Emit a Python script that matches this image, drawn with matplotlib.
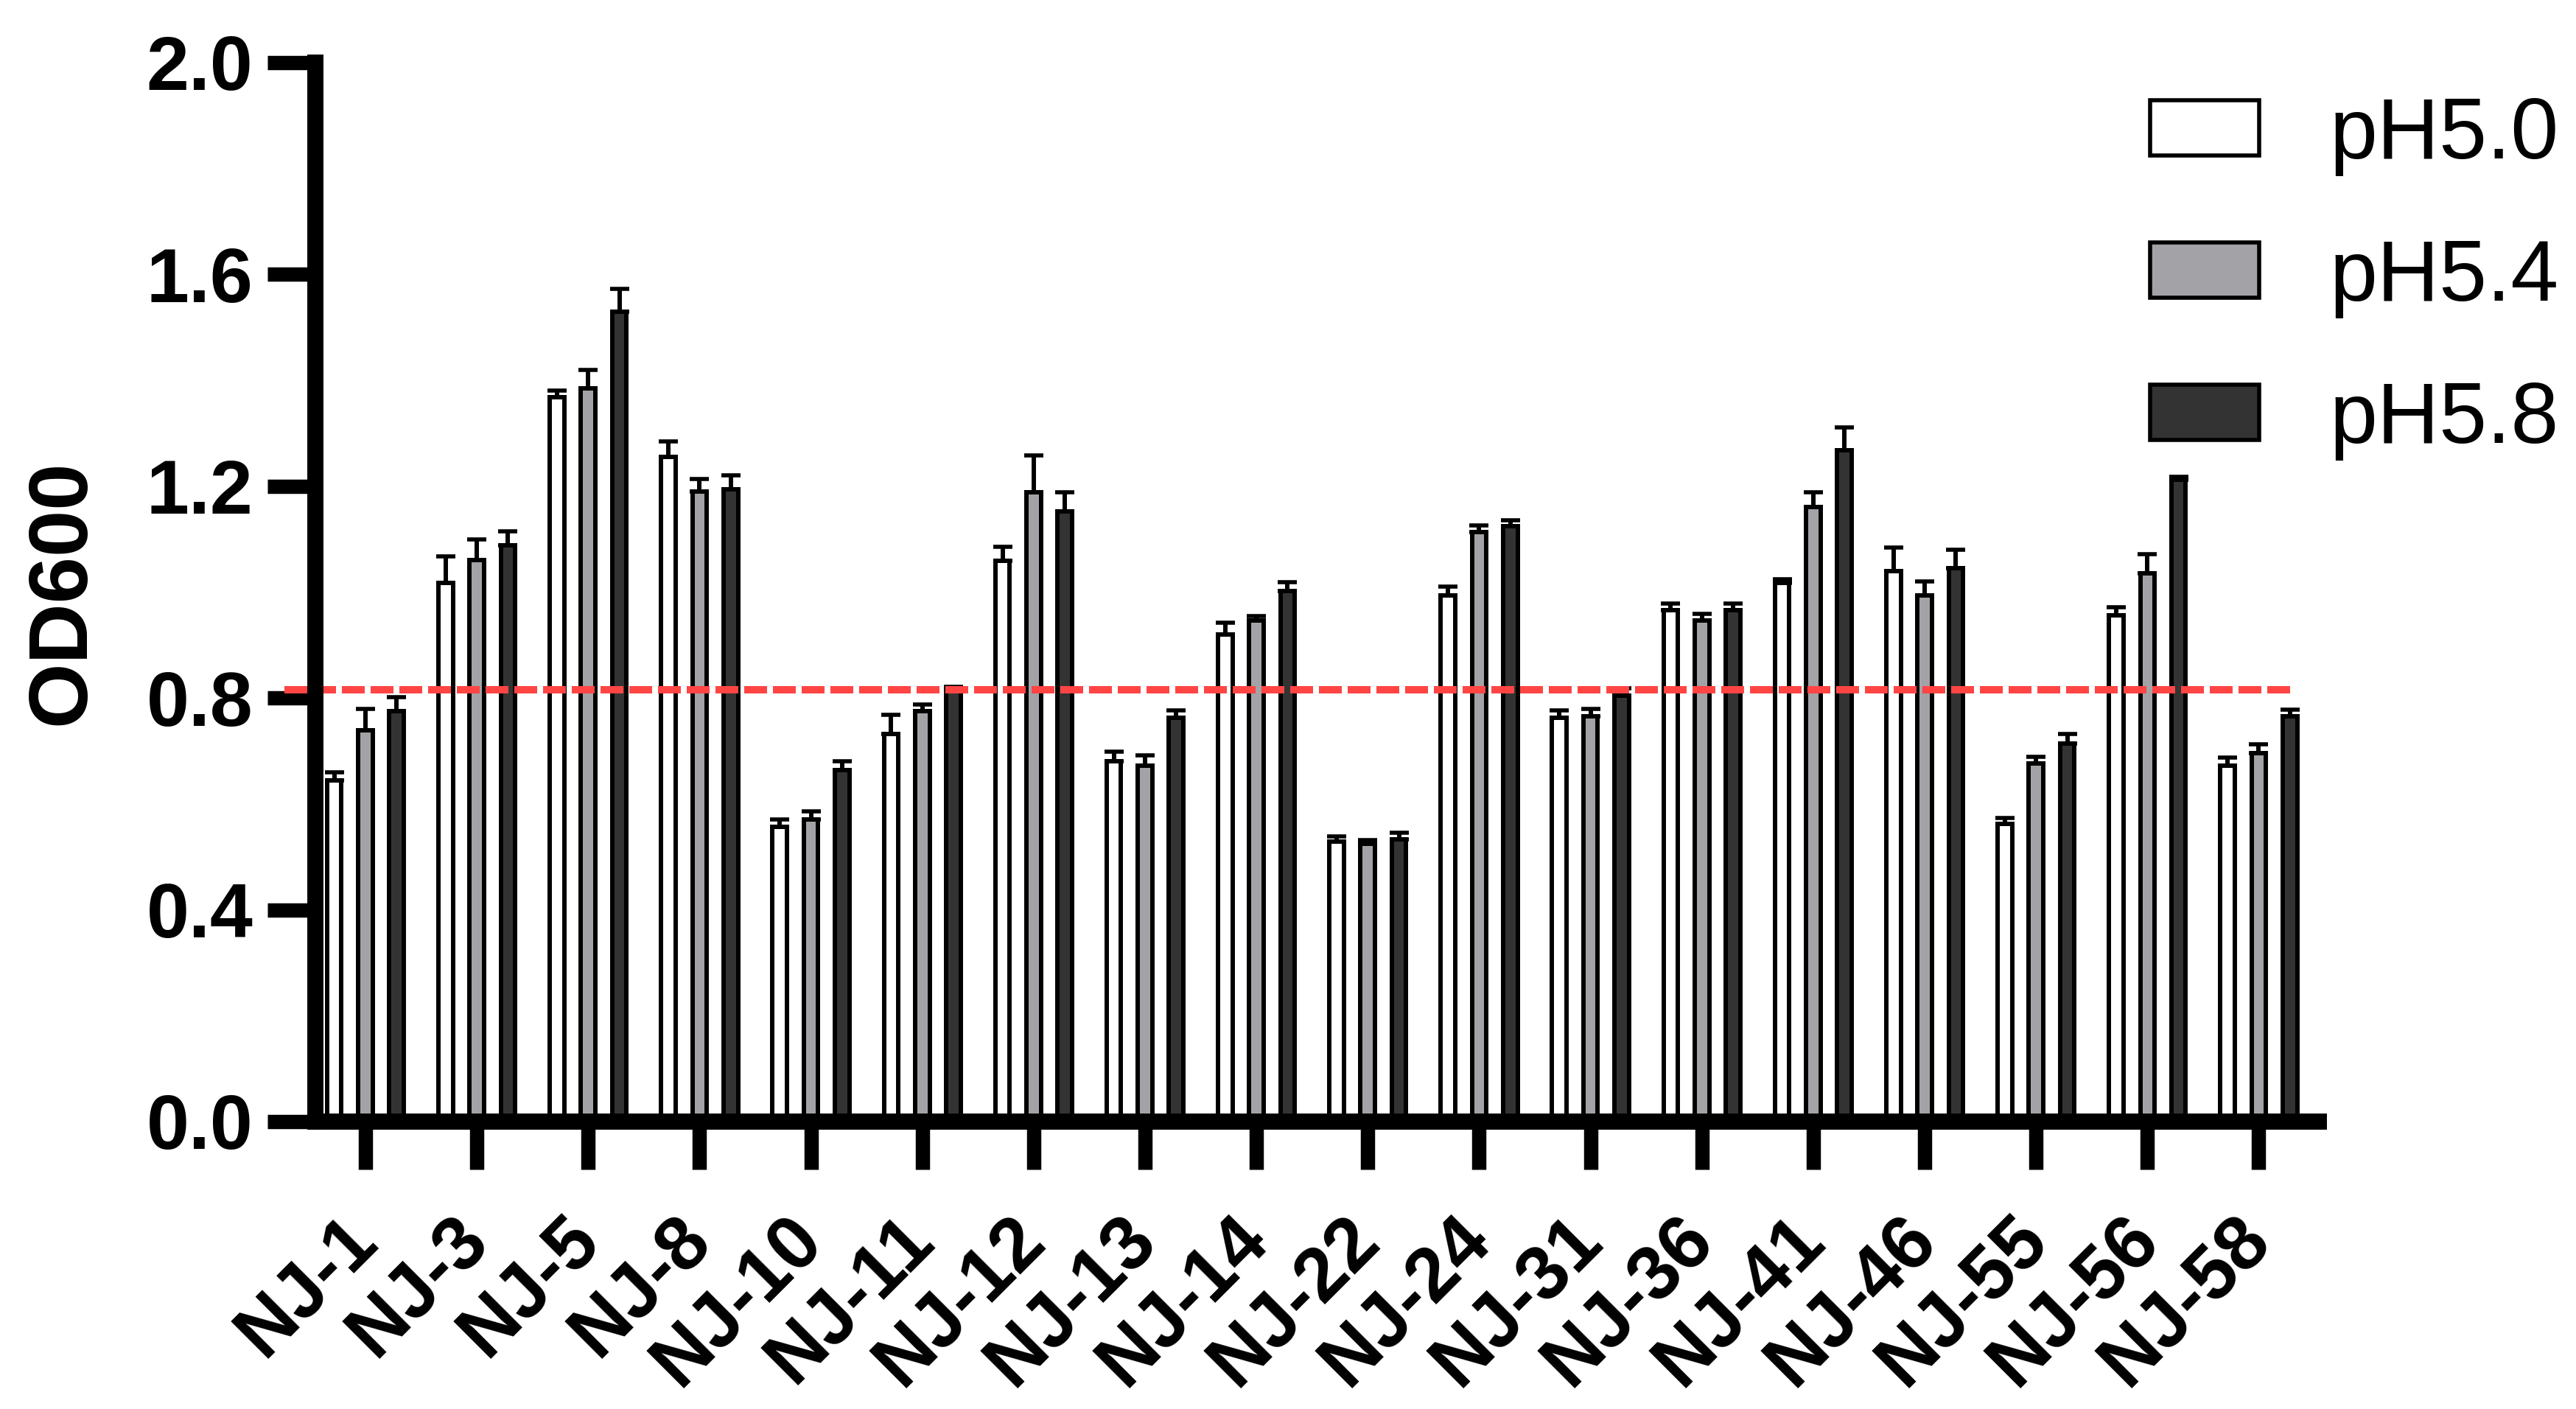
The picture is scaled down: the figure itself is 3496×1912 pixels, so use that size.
import matplotlib
matplotlib.use("Agg")
import matplotlib.pyplot as plt
import numpy as np
from matplotlib.patches import Patch

plt.rcParams['font.family'] = ['Liberation Sans', 'DejaVu Sans']

strains = ["NJ-1", "NJ-3", "NJ-5", "NJ-8", "NJ-10", "NJ-11", "NJ-12", "NJ-13", "NJ-14",
           "NJ-22", "NJ-24", "NJ-31", "NJ-36", "NJ-41", "NJ-46", "NJ-55", "NJ-56", "NJ-58"]

ph50 = [0.645, 1.017, 1.368, 1.255, 0.557, 0.732, 1.059, 0.681, 0.920,
        0.529, 0.994, 0.762, 0.966, 1.017, 1.039, 0.562, 0.956, 0.672]
ph50_err = [0.015, 0.050, 0.013, 0.029, 0.014, 0.036, 0.027, 0.018, 0.022,
            0.010, 0.017, 0.014, 0.012, 0.007, 0.045, 0.012, 0.016, 0.016]

ph54 = [0.739, 1.060, 1.385, 1.190, 0.571, 0.775, 1.189, 0.672, 0.947,
        0.525, 1.114, 0.766, 0.947, 1.161, 0.994, 0.677, 1.035, 0.696]
ph54_err = [0.040, 0.040, 0.035, 0.023, 0.015, 0.013, 0.069, 0.020, 0.008,
            0.006, 0.012, 0.013, 0.012, 0.028, 0.026, 0.012, 0.036, 0.016]

ph58 = [0.775, 1.088, 1.530, 1.194, 0.664, 0.815, 1.152, 0.762, 1.002,
        0.533, 1.125, 0.805, 0.966, 1.268, 1.045, 0.714, 1.212, 0.766]
ph58_err = [0.027, 0.027, 0.043, 0.026, 0.016, 0.006, 0.037, 0.014, 0.017,
            0.012, 0.011, 0.013, 0.012, 0.043, 0.035, 0.018, 0.006, 0.012]

series = [("pH5.0", ph50, ph50_err, "#FFFFFF"),
          ("pH5.4", ph54, ph54_err, "#A3A2A7"),
          ("pH5.8", ph58, ph58_err, "#333333")]

threshold = 0.815

fig = plt.figure(figsize=(34.96, 19.12), dpi=100)
ax = fig.add_axes([0.1224, 0.2040, 0.7778, 0.7516])

x = np.arange(len(strains))
offsets = [-0.28, 0.0, 0.28]
width = 0.13

handles = []
for (name, vals, errs, color), off in zip(series, offsets):
    ax.bar(x + off, vals, width=width, color=color, edgecolor="black",
           linewidth=4.3, zorder=1)
    ax.errorbar(x + off, vals, yerr=[np.zeros(len(errs)), errs], fmt="none",
                ecolor="black", elinewidth=4.3, capsize=9.4, capthick=4,
                zorder=1.5)
    handles.append(Patch(facecolor=color, edgecolor="black", linewidth=4, label=name))

# threshold line
ax.plot([-0.73, 17.29], [threshold, threshold], color="#FF4444", lw=7.2,
        ls=(0, (3.1, 0.8)), clip_on=False, zorder=2)

ax.set_xlim(-0.45, 17.54)
ax.set_ylim(0, 2.0)
ax.set_yticks([0.0, 0.4, 0.8, 1.2, 1.6, 2.0])
ax.set_yticklabels(["0.0", "0.4", "0.8", "1.2", "1.6", "2.0"],
                   fontsize=75, fontweight="bold")
ax.set_xticks(x)
ax.set_xticklabels(strains, rotation=45, ha="right", va="center",
                   rotation_mode="anchor", fontsize=74, fontweight="bold")

for side in ["top", "right"]:
    ax.spines[side].set_visible(False)
for side in ["left", "bottom"]:
    ax.spines[side].set_linewidth(15.8)

ax.tick_params(axis="y", length=47, width=14, pad=14)
ax.tick_params(axis="x", length=47, width=14, pad=58)

ax.text(-0.1258, 0.5, "OD600", transform=ax.transAxes, rotation=90,
        ha="center", va="center", fontsize=82, fontweight="bold")

ax.legend(handles=handles, loc="upper left", bbox_to_anchor=(0.8346, 0.932),
          bbox_transform=fig.transFigure, frameon=False, fontsize=84,
          handlelength=1.27, handleheight=0.61, handletextpad=0.82,
          labelspacing=0.72, borderpad=0, borderaxespad=0)

fig.savefig("out.png", dpi=100)
